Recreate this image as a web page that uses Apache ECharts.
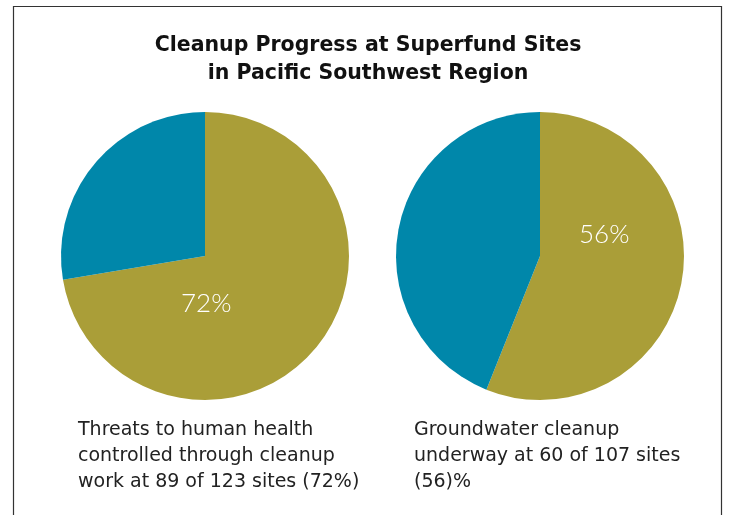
<!DOCTYPE html>
<html>
<head>
<meta charset="utf-8">
<script src="https://cdn.jsdelivr.net/npm/echarts@6/dist/echarts.min.js"></script>
<style>
  html, body { margin: 0; padding: 0; background: #fff; }
  #chart { width: 736px; height: 515px; }
</style>
</head>
<body>
<div id="chart"></div>
<script>
// data
const titleLines = ['Cleanup Progress at Superfund Sites', 'in Pacific Southwest Region'];
const statusNames = ['Done', 'Remaining'];
const healthSites = [89, 34];      // 89 of 123 sites
const groundwaterSites = [60, 47]; // 60 of 107 sites
const pctLabels = ['72%', '56%'];
const captions = [
  'Threats to human health\ncontrolled through cleanup\nwork at 89 of 123 sites (72%)',
  'Groundwater cleanup\nunderway at 60 of 107 sites\n(56)%'
];

const gold = '#aa9e38';
const blue = '#0087aa';
const font = '"DejaVu Sans", sans-serif';

const chart = echarts.init(document.getElementById('chart'));

function pieSeries(values, center) {
  return {
    type: 'pie',
    center: center,
    radius: [0, 144],
    startAngle: 90,
    clockwise: true,
    silent: true,
    label: { show: false },
    labelLine: { show: false },
    itemStyle: { borderWidth: 0 },
    data: values.map((v, i) => ({
      name: statusNames[i],
      value: v,
      itemStyle: { color: i === 0 ? gold : blue }
    }))
  };
}

chart.setOption({
  animation: false,
  title: {
    text: titleLines.join('\n'),
    left: 'center',
    top: 27,
    textStyle: {
      fontFamily: font,
      fontSize: 20.5,
      fontWeight: 'bold',
      color: '#111',
      lineHeight: 28
    }
  },
  graphic: [
    {
      type: 'rect',
      shape: { x: 13.5, y: 6.5, width: 708, height: 530 },
      style: { fill: 'none', stroke: '#333', lineWidth: 1.2 },
      z: 0
    },
    {
      type: 'text', left: 181, top: 291, z: 10,
      style: { text: pctLabels[0], fill: '#fff', font: '300 26px Lato, sans-serif' }
    },
    {
      type: 'text', left: 579, top: 222, z: 10,
      style: { text: pctLabels[1], fill: '#fff', font: '300 26px Lato, sans-serif' }
    },
    {
      type: 'text', left: 78, top: 417,
      style: { text: captions[0], fill: '#222', font: '19px ' + font, lineHeight: 26 }
    },
    {
      type: 'text', left: 414, top: 417,
      style: { text: captions[1], fill: '#222', font: '19px ' + font, lineHeight: 26 }
    }
  ],
  series: [
    pieSeries(healthSites, [205, 256]),
    pieSeries(groundwaterSites, [540, 256])
  ]
});
</script>
</body>
</html>
